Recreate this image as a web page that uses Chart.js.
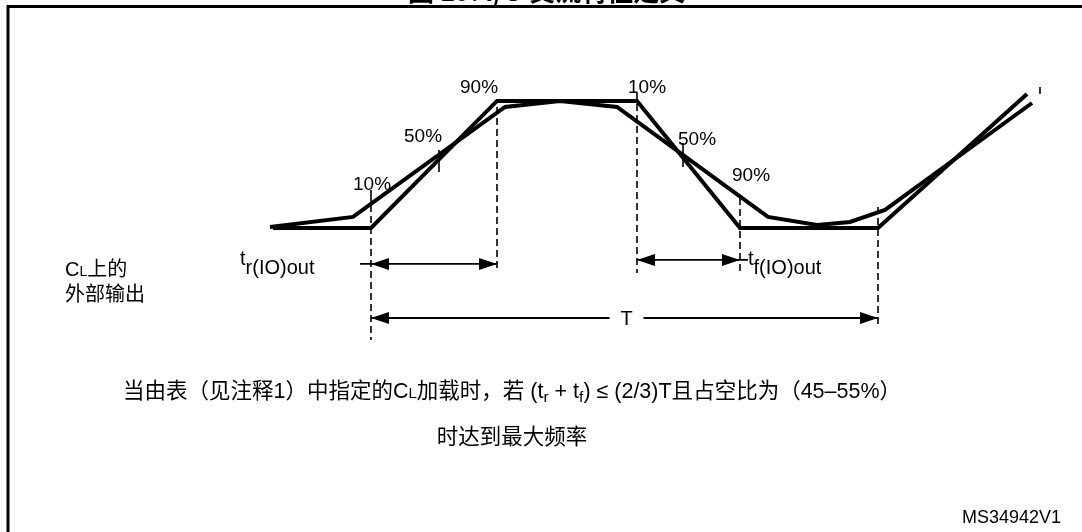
<!DOCTYPE html>
<html>
<head>
<meta charset="utf-8">
<script src="https://cdn.jsdelivr.net/npm/chart.js@4.4.0/dist/chart.umd.min.js"></script>
<style>
html, body { margin: 0; padding: 0; background: #fff; overflow: hidden; }
</style>
</head>
<body>
<canvas id="chart" width="1082" height="532"></canvas>
<script>
// time in arbitrary units, level in % of the output swing (0 = low, 100 = high)
const idealTime = [273, 371, 497, 637, 740, 878, 1027];
const idealLevel = [0, 0, 100, 100, 0, 0, 105.5];

const realTime = [270, 353, 505, 560, 617, 768, 817, 850, 885, 1032];
const realLevel = [0.8, 8.7, 95.3, 100, 95.3, 8.7, 2.4, 4.7, 14.2, 98.4];

// dashed reference lines
const markerTime = [371, 497, 637, 740, 878, 1040];
const markerTop = [18.1, 95.3, 106.3, 23.6, 16.5, 111.0];
const markerBottom = [-88.2, -33.1, -35.4, -35.4, -78.7, 104.7];

// short solid ticks at 10% / 50%
const tickTime = [371, 439, 683];
const tickTop = [29.9, 61.4, 66.9];
const tickBottom = [19.7, 44.1, 48.0];

// timing spans: tr, tf, T
const spanStart = [371, 637, 371];
const spanEnd = [497, 740, 878];
const shaftStart = [360, 637, 371];
const shaftEnd = [497, 748, 878];
const spanLevel = [-28.3, -25.2, -70.9];

const LATIN = '"Liberation Sans", Arial, "Noto Sans CJK SC", sans-serif';

const toPoints = (xs, ys) => xs.map((x, i) => ({ x, y: ys[i] }));

const datasets = [
  { data: toPoints(idealTime, idealLevel), borderWidth: 4 },
  { data: toPoints(realTime, realLevel), borderWidth: 4 }
];
markerTime.forEach((t, i) => {
  datasets.push({
    data: [{ x: t, y: markerTop[i] }, { x: t, y: markerBottom[i] }],
    borderWidth: 1.6,
    borderDash: [7, 4]
  });
});
tickTime.forEach((t, i) => {
  datasets.push({
    data: [{ x: t, y: tickTop[i] }, { x: t, y: tickBottom[i] }],
    borderWidth: 1.6
  });
});
shaftStart.forEach((s, i) => {
  datasets.push({
    data: [{ x: s, y: spanLevel[i] }, { x: shaftEnd[i], y: spanLevel[i] }],
    borderWidth: 1.8
  });
});
datasets.forEach(ds => {
  ds.borderColor = '#000';
  ds.pointRadius = 0;
  ds.showLine = true;
  ds.tension = 0;
  ds.borderJoinStyle = 'miter';
});

function runs(ctx, x, y, parts) {
  parts.forEach(p => {
    ctx.font = p.font;
    ctx.fillText(p.text, x, y + (p.dy || 0));
    x += ctx.measureText(p.text).width;
  });
  return x;
}

const decor = {
  id: 'decor',
  afterDatasetsDraw(chart) {
    const { ctx } = chart;
    const sx = chart.scales.x, sy = chart.scales.y;
    ctx.save();
    ctx.fillStyle = '#000';
    ctx.strokeStyle = '#000';

    // frame
    ctx.lineWidth = 3;
    ctx.beginPath();
    ctx.moveTo(8, 532);
    ctx.lineTo(8, 6.5);
    ctx.lineTo(1082, 6.5);
    ctx.stroke();

    // arrowheads
    const head = (tip, y, dir) => {
      ctx.beginPath();
      ctx.moveTo(tip, y);
      ctx.lineTo(tip + dir * 18, y - 6);
      ctx.lineTo(tip + dir * 18, y + 6);
      ctx.closePath();
      ctx.fill();
    };
    spanStart.forEach((s, i) => {
      const y = sy.getPixelForValue(spanLevel[i]);
      head(sx.getPixelForValue(s), y, 1);
      head(sx.getPixelForValue(spanEnd[i]), y, -1);
    });

    // title, cut by the top edge
    ctx.textBaseline = 'alphabetic';
    ctx.font = 'bold 26px "Noto Sans CJK SC", sans-serif';
    ctx.fillText('图 19. I/O 交流特性定义', 408, 1);

    // percentage labels
    ctx.font = '19px ' + LATIN;
    [['10%', 353, 190], ['50%', 404, 142], ['90%', 460, 93],
     ['10%', 628, 93], ['50%', 678, 145], ['90%', 732, 181]]
      .forEach(([s, x, y]) => ctx.fillText(s, x, y));

    // tr / tf labels
    const f20 = '20px ' + LATIN;
    runs(ctx, 240, 265, [{ text: 't', font: f20 }, { text: 'r(IO)out', font: f20, dy: 9 }]);
    runs(ctx, 748, 265, [{ text: 't', font: f20 }, { text: 'f(IO)out', font: f20, dy: 9 }]);

    // T label on the period arrow
    ctx.font = '20px ' + LATIN;
    const tx = (sx.getPixelForValue(spanStart[2]) + sx.getPixelForValue(spanEnd[2])) / 2 + 2;
    const ty = sy.getPixelForValue(spanLevel[2]);
    ctx.fillStyle = '#fff';
    ctx.fillRect(tx - 17, ty - 4, 34, 8);
    ctx.fillStyle = '#000';
    ctx.textAlign = 'center';
    ctx.fillText('T', tx, ty + 7);
    ctx.textAlign = 'left';

    // signal name
    const fSmall = '14px ' + LATIN;
    runs(ctx, 65, 276, [{ text: 'C', font: f20 }, { text: 'L', font: fSmall }, { text: '上的', font: f20 }]);
    runs(ctx, 65, 301, [{ text: '外部输出', font: f20 }]);

    // note
    const fNote = '21.5px ' + LATIN;
    const fSub = '15.5px ' + LATIN;
    const note1 = [
      { text: '当由表（见注释1）中指定的C', font: fNote },
      { text: 'L', font: '15px ' + LATIN },
      { text: '加载时，若 (t', font: fNote },
      { text: 'r', font: fSub, dy: 4 },
      { text: ' + t', font: fNote },
      { text: 'f', font: fSub, dy: 4 },
      { text: ') ≤ (2/3)T且占空比为（45–55%）', font: fNote }
    ];
    const endX = runs(ctx, 123, 398, note1);
    const mid = (123 + endX) / 2;
    ctx.font = fNote;
    ctx.textAlign = 'center';
    ctx.fillText('时达到最大频率', mid, 444);
    ctx.textAlign = 'left';

    ctx.font = '18px ' + LATIN;
    ctx.fillText('MS34942V1', 962, 523);
    ctx.restore();
  }
};

new Chart(document.getElementById('chart'), {
  type: 'scatter',
  data: { datasets },
  options: {
    responsive: false,
    animation: false,
    layout: { padding: 0 },
    plugins: { legend: { display: false }, tooltip: { enabled: false } },
    scales: {
      x: { type: 'linear', min: 0, max: 1082, display: false },
      y: { type: 'linear', min: -239.4, max: 179.5, display: false }
    }
  },
  plugins: [decor]
});
</script>
</body>
</html>
